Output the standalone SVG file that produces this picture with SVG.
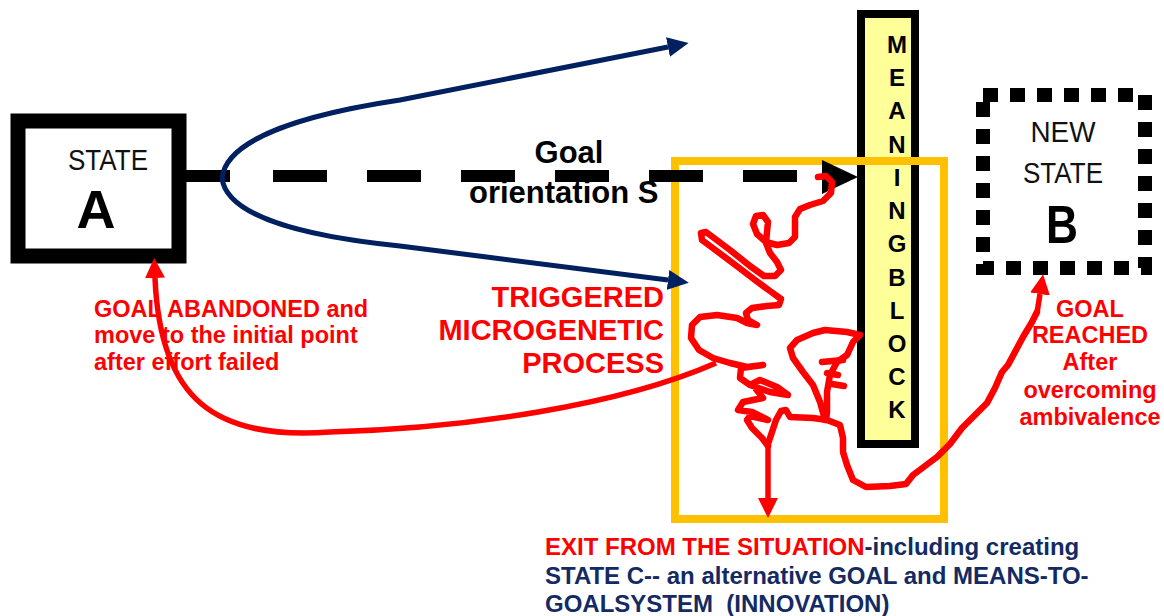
<svg xmlns="http://www.w3.org/2000/svg" width="1164" height="616" viewBox="0 0 1164 616">
  <defs>
    <style>
      .sans { font-family: "Liberation Sans", Arial, sans-serif; }
      .state-label { font-family: "Liberation Sans", Arial, sans-serif; font-size: 29px; fill: #111; text-anchor: middle; }
      .state-letter { font-family: "Liberation Sans", Arial, sans-serif; font-size: 54px; font-weight: bold; fill: #000; text-anchor: middle; }
      .red-label { font-family: "Liberation Sans", Arial, sans-serif; font-size: 23.5px; font-weight: bold; fill: #ff0000; }
      .exit-label { font-family: "Liberation Sans", Arial, sans-serif; font-size: 24px; font-weight: bold; fill: #132a63; }
      .navy-text { fill: #132a63; }
      .red-text { fill: #ff0000; }
      .block-letter { font-family: "Liberation Sans", Arial, sans-serif; font-size: 24px; font-weight: bold; fill: #000; text-anchor: middle; }
      .scribble { fill: none; stroke: #ff0000; stroke-width: 6.5; stroke-linejoin: round; stroke-linecap: round; }
      .red-arrow { fill: none; stroke: #ff0000; stroke-width: 5.5; stroke-linecap: butt; }
      .navy-arrow { fill: none; stroke: #002060; stroke-width: 5; }
    </style>
    <marker id="head-red" viewBox="0 0 20 20" refX="0" refY="10" markerWidth="20" markerHeight="20" markerUnits="userSpaceOnUse" orient="auto">
      <path d="M0,0 L20,10 L0,20 z" fill="#ff0000"/>
    </marker>
    <marker id="head-navy" viewBox="0 0 21 20" refX="0" refY="10" markerWidth="21" markerHeight="20" markerUnits="userSpaceOnUse" orient="auto">
      <path d="M0,0 L21,10 L0,20 z" fill="#002060"/>
    </marker>
  </defs>

  <rect width="1164" height="616" fill="#ffffff"/>

  <!-- Meaning block (vertical bar) -->
  <g id="node-meaning-block">
    <rect x="861" y="14" width="54" height="430" fill="#ffff99" stroke="#000" stroke-width="8"/>
    <text class="block-letter" x="897" y="53">M</text>
    <text class="block-letter" x="897" y="86">E</text>
    <text class="block-letter" x="897" y="119">A</text>
    <text class="block-letter" x="897" y="153">N</text>
    <text class="block-letter" x="897" y="186">I</text>
    <text class="block-letter" x="897" y="219">N</text>
    <text class="block-letter" x="897" y="252">G</text>
    <text class="block-letter" x="897" y="286">B</text>
    <text class="block-letter" x="897" y="319">L</text>
    <text class="block-letter" x="897" y="352">O</text>
    <text class="block-letter" x="897" y="385">C</text>
    <text class="block-letter" x="897" y="418">K</text>
  </g>

  <!-- Frame around the microgenetic process -->
  <g id="node-process-frame">
    <rect x="675" y="161" width="269" height="358" fill="none" stroke="#ffc000" stroke-width="8"/>
  </g>

  <!-- State A -->
  <g id="node-state-a">
    <rect x="18" y="121" width="161" height="135" fill="#fff" stroke="#000" stroke-width="15"/>
    <text class="state-label" x="108" y="170" textLength="80" lengthAdjust="spacingAndGlyphs">STATE</text>
    <text class="state-letter" x="96" y="228" textLength="39" lengthAdjust="spacingAndGlyphs">A</text>
  </g>

  <!-- New state B -->
  <g id="node-state-b">
    <rect x="983" y="95" width="162" height="173" fill="#fff" stroke="#000" stroke-width="14" stroke-dasharray="15 12"/>
    <text class="state-label" x="1063" y="142" textLength="65" lengthAdjust="spacingAndGlyphs">NEW</text>
    <text class="state-label" x="1063" y="183" textLength="80" lengthAdjust="spacingAndGlyphs">STATE</text>
    <text class="state-letter" x="1062" y="243" textLength="32" lengthAdjust="spacingAndGlyphs">B</text>
  </g>

  <g id="connectors">
    <!-- goal orientation: dashed path from A towards the block -->
    <path d="M186,176 L230,176" stroke="#000" stroke-width="12"/>
    <path d="M273,176 L822,176" stroke="#000" stroke-width="12" stroke-dasharray="54 40"/>
    <polygon points="822,160 858,177 822,194" fill="#000"/>

    <!-- diverging alternatives -->
    <path class="navy-arrow" d="M222,178 C226,140 300,115 400,100 L668,47" marker-end="url(#head-navy)"/>
    <path class="navy-arrow" d="M222,178 C226,215 300,236 400,246 L668,280" marker-end="url(#head-navy)"/>
  </g>

  <!-- Labels -->
  <g id="labels">
    <text class="sans" font-size="31" font-weight="bold" fill="#000" x="569" y="163" text-anchor="middle">Goal</text>
    <text class="sans" font-size="31" font-weight="bold" fill="#000" x="469" y="203">orientation S</text>

    <text class="red-label" x="94" y="317">GOAL ABANDONED and</text>
    <text class="red-label" x="94" y="343">move to the initial point</text>
    <text class="red-label" x="94" y="370">after effort failed</text>

    <text class="sans" font-size="29" font-weight="bold" fill="#ff0000" text-anchor="end" x="664" y="307">TRIGGERED</text>
    <text class="sans" font-size="29" font-weight="bold" fill="#ff0000" text-anchor="end" x="664" y="340">MICROGENETIC</text>
    <text class="sans" font-size="29" font-weight="bold" fill="#ff0000" text-anchor="end" x="664" y="373">PROCESS</text>

    <g class="red-label" text-anchor="middle">
      <text x="1090" y="317">GOAL</text>
      <text x="1090" y="343">REACHED</text>
      <text x="1090" y="370">After</text>
      <text x="1090" y="398">overcoming</text>
      <text x="1090" y="425">ambivalence</text>
    </g>

    <text class="exit-label" x="545" y="555"><tspan class="red-text">EXIT FROM THE SITUATION</tspan><tspan class="navy-text">-including creating</tspan></text>
    <text class="exit-label" x="545" y="584">STATE C-- an alternative GOAL and MEANS-TO-</text>
    <text class="exit-label" x="545" y="612" xml:space="preserve">GOALSYSTEM  (INNOVATION)</text>
  </g>

  <!-- Microgenetic process scribble -->
  <g id="process-scribble">
    <polyline class="scribble" points="818,177 826,176 832,182 831,193 823,201 810,205 800,209 795,217 795,228 795,237 789,243 777,245 766,242 757,234 753,224 756,216 763,215 768,222 767,232 766,243 770,253 777,262 781,270 775,276 764,276 750,266 730,250 714,238 706,232 701,233 702,240 718,252 738,267 755,280 770,291 781,299 779,305 767,306 752,308 746,313 748,320 757,325 747,323 737,318 717,315 700,317 692,325 691,338 699,350 713,358 730,363 747,367 763,365 741,368 740,378 750,385 770,392 788,395 777,387 760,380 752,384 763,398 743,402 738,410 752,412 768,420 750,416 747,420 752,428 762,438 768,446"/>
    <polyline class="scribble" points="768,444 776,420 781,411 786,410 790,417 813,418 827,420 840,425 843,438 843,452 847,465 853,480 866,487 890,486 906,484 913,475 925,466 937,457 950,444 962,428 973,417 987,403 995,388 1002,372 1008,365 1016,350 1023,337 1032,322 1037,312"/>
    <polyline class="scribble" points="825,420 820,402 813,385 803,372 793,358 790,348 797,340 813,333 825,330 847,332 860,335 853,342 848,353 847,355 837,362 830,375 827,392 827,412 826,420"/>
    <path class="scribble" d="M822,362 L843,360 M827,373 L838,375 M832,384 L844,386"/>
  </g>

  <!-- Outcomes of the process -->
  <g id="outcome-arrows">
    <!-- goal reached -->
    <path class="red-arrow" d="M1037,313 L1040,294" marker-end="url(#head-red)"/>
    <!-- exit from the situation -->
    <path class="red-arrow" d="M768,442 L768,498" marker-end="url(#head-red)"/>
    <!-- goal abandoned, back to A -->
    <path class="red-arrow" d="M716,363 C620,405 470,428 330,432 C215,440 160,400 155,278" marker-end="url(#head-red)"/>
  </g>
</svg>
